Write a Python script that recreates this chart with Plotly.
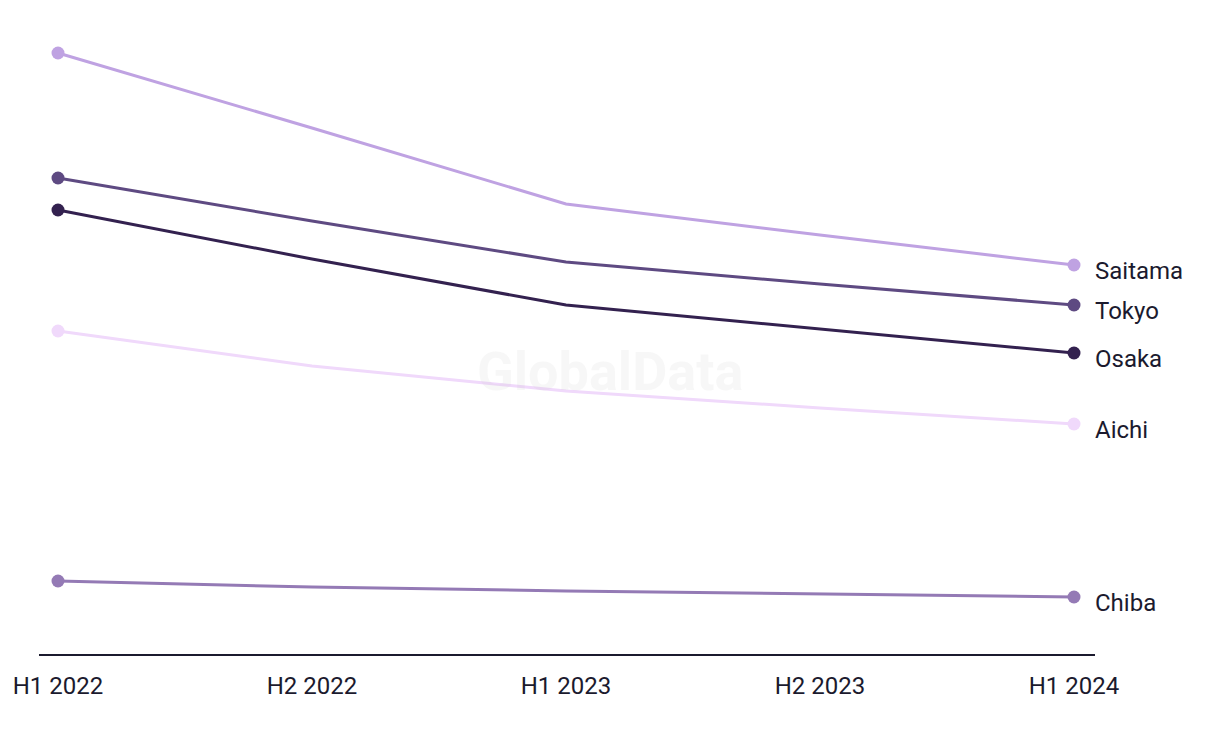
import plotly.graph_objects as go

periods = ["H1 2022", "H2 2022", "H1 2023", "H2 2023", "H1 2024"]

saitama = [60.1, 52.6, 45.0, 41.9, 38.9]
tokyo = [47.6, 43.3, 39.2, 37.0, 34.9]
osaka = [44.4, 39.5, 34.9, 32.5, 30.1]
aichi = [32.3, 28.8, 26.3, 24.6, 23.0]
chiba = [7.3, 6.7, 6.3, 6.0, 5.7]

series_names = ["Saitama", "Tokyo", "Osaka", "Aichi", "Chiba"]
series_values = [saitama, tokyo, osaka, aichi, chiba]
series_colors = ["#BFA2E2", "#5E4A82", "#33214F", "#F0D9FB", "#947AB5"]

text_color = "#1B1A2E"
font_family = "Roboto, 'Liberation Sans', Arial, sans-serif"

fig = go.Figure()
xs = list(range(len(periods)))
for name, vals, col in zip(series_names, series_values, series_colors):
    sizes = [13 if i in (0, len(vals) - 1) else 0 for i in range(len(vals))]
    fig.add_trace(go.Scatter(
        x=xs, y=vals, mode="lines+markers", name=name,
        line=dict(color=col, width=3),
        marker=dict(color=col, size=sizes, opacity=1, line=dict(width=0)),
        opacity=1,
        showlegend=False, hoverinfo="skip",
    ))
    fig.add_annotation(
        x=xs[-1], y=vals[-1], xref="x", yref="y",
        text=name, showarrow=False, xanchor="left", yanchor="middle",
        xshift=19, yshift=-6,
        font=dict(size=24, color=text_color, family=font_family),
    )

fig.add_annotation(
    x=0.541, y=0.445, xref="paper", yref="paper",
    text="<b>GlobalData</b>", showarrow=False,
    font=dict(size=54, color="rgba(200,200,200,0.15)", family=font_family),
)

fig.update_layout(
    width=1220, height=744,
    margin=dict(l=39, r=125, t=20, b=90),
    paper_bgcolor="white", plot_bgcolor="white",
    xaxis=dict(
        tickmode="array", tickvals=xs, ticktext=periods,
        range=[-0.0748, 4.0827],
        showgrid=False, zeroline=False,
        showline=True, linecolor=text_color, linewidth=2,
        ticks="", ticklabelstandoff=9,
        tickfont=dict(size=24, color=text_color, family=font_family),
    ),
    yaxis=dict(
        range=[0, 63.4], showgrid=False, zeroline=False,
        showticklabels=False, showline=False,
    ),
)

fig.write_html("out.html")
